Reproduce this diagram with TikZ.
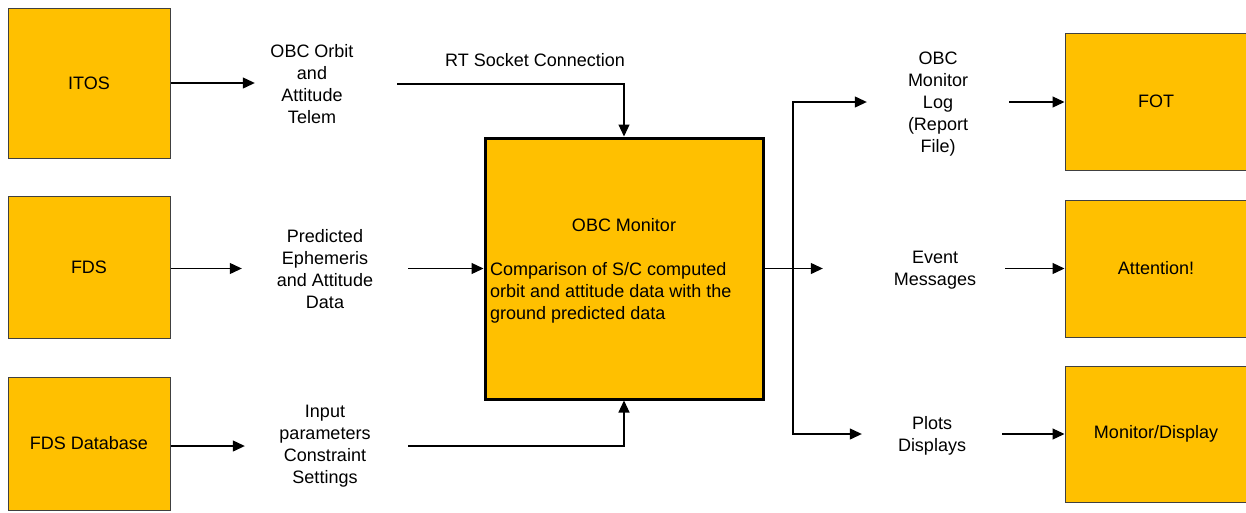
\documentclass[tikz,border=0pt]{standalone}
\usepackage{fontspec}
\setmainfont{Liberation Sans}
\usetikzlibrary{arrows.meta}
\definecolor{boxfill}{HTML}{FFC000}
\definecolor{boxline}{HTML}{404040}
\tikzset{
  box/.style={draw=boxline, line width=1pt, fill=boxfill, minimum width=162pt, minimum height=#1, inner sep=0pt},
  rbox/.style={draw=boxline, line width=1pt, fill=boxfill, minimum width=182pt, minimum height=#1, inner sep=0pt},
  lbl/.style={align=center, inner sep=0pt, minimum width=#1},
  arr/.style={-{Triangle[length=12pt,width=11pt]}, line width=1.2pt, black},
  ln/.style={line width=1.2pt, black},
  every node/.style={font=\fontsize{18}{22}\selectfont}
}
\begin{document}
\begin{tikzpicture}[x=1pt,y=-1pt]
\useasboundingbox (0,0) rectangle (1246,512);
% left boxes
\node[box=150pt] (itos) at (89,83) {ITOS};
\node[box=142pt] (fds) at (89,267) {FDS};
\node[box=133pt] (fdsdb) at (89,443.5) {FDS Database};
% center box
\node[draw=black, line width=3pt, fill=boxfill, minimum width=278pt, minimum height=261pt, inner sep=0pt] (obc) at (624,268.5) {};
\node (obctitle) at (624,225) {OBC Monitor};
\node[align=left, anchor=west, inner sep=0pt] (obctext) at (490,293) {Comparison of S/C computed\\orbit and attitude data with the\\ground predicted data};
% right boxes
\node[rbox=137pt] (fot) at (1156,101.5) {FOT};
\node[rbox=137pt] (att) at (1156,268.5) {Attention!};
\node[rbox=136pt] (mon) at (1156,434) {Monitor/Display};
% left labels
\node[lbl=170pt] (lab1) at (312,84) {OBC Orbit\\and\\Attitude\\Telem};
\node[lbl=166pt] (lab2) at (325,269) {Predicted\\Ephemeris\\and Attitude\\Data};
\node[lbl=166pt] (lab3) at (325,446.5) {Input\\parameters\\Constraint\\Settings};
\node (rt) at (535,60) {RT Socket Connection};
% right labels
\node[lbl=142pt] (log) at (938,104) {OBC\\Monitor\\Log\\(Report\\File)};
\node[lbl=140pt] (event) at (935,270.5) {Event\\Messages};
\node[lbl=140pt] (plots) at (932,436) {Plots\\Displays};
% left connectors
\draw[arr] (itos.east) -- ([xshift=28pt]itos.east -| lab1.west);
\draw[arr] (fds.east |- 0,268.5) -- (lab2.west |- 0,268.5);
\draw[arr] (fdsdb.east |- 0,446) -- ([xshift=3pt]lab3.west |- 0,446);
\draw[arr] (lab1.east |- 0,84) -| (obc.north);
\draw[arr] (lab2.east |- 0,268.5) -- (obc.west);
\draw[arr] (lab3.east |- 0,446) -| (obc.south);
% right connectors
\coordinate (br) at (793,268.5);
\draw[ln] (obc.east) -- (br);
\draw[arr] (br) -- ([xshift=-42pt]event.west |- br);
\draw[arr] (br) |- (log.west |- 0,102);
\draw[arr] (br) |- (plots.west |- 0,434);
\draw[arr] (log.east |- 0,102) -- (fot.west |- 0,102);
\draw[arr] (event.east |- br) -- (att.west);
\draw[arr] (plots.east |- 0,434) -- (mon.west);
\end{tikzpicture}
\end{document}
